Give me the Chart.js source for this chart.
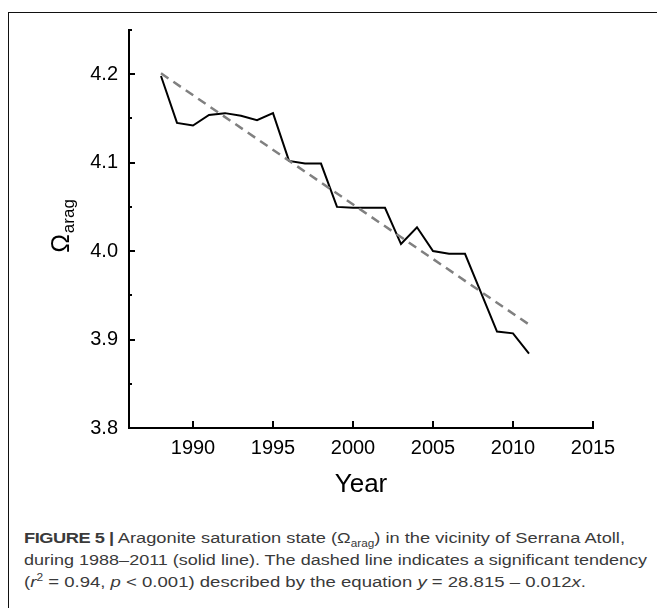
<!DOCTYPE html>
<html>
<head>
<meta charset="utf-8">
<script src="https://cdn.jsdelivr.net/npm/chart.js@4.4.0/dist/chart.umd.min.js"></script>
<style>
	html, body { margin: 0; padding: 0; background: #fff; width: 657px; height: 608px; overflow: hidden; }
	#Frame { position: absolute; left: 8px; top: 12px; width: 700px; height: 700px; border-left: 1px solid #111; border-top: 1px solid #111; }
	#Chart_Driver { position: absolute; left: 0; top: 0; }
	#Caption { position: absolute; left: 24px; top: 527px; font-family: "Liberation Sans", Arial, sans-serif; font-size: 15.5px; line-height: 22px; color: #3a3a3a; }
	.cap_line { white-space: nowrap; transform-origin: 0 0; display: block; width: max-content; }
	.cap_line sub, .cap_line sup { font-size: 10px; line-height: 0; }
	.cap_line b { letter-spacing: -0.4px; }
</style>
</head>
<body>
<div id="Frame"></div>
<canvas id="Chart_Driver" width="657" height="520"></canvas>
<div id="Caption">
	<span class="cap_line" id="Cap_1"><b>FIGURE 5 |</b> Aragonite saturation state (Ω<sub>arag</sub>) in the vicinity of Serrana Atoll,</span>
	<span class="cap_line" id="Cap_2">during 1988–2011 (solid line). The dashed line indicates a significant tendency</span>
	<span class="cap_line" id="Cap_3">(<i>r</i><sup>2</sup> = 0.94, <i>p</i> &lt; 0.001) described by the equation <i>y</i> = 28.815 – 0.012<i>x</i>.</span>
</div>
<script>
// values
const years = [1988, 1989, 1990, 1991, 1992, 1993, 1994, 1995, 1996, 1997, 1998, 1999,
	2000, 2001, 2002, 2003, 2004, 2005, 2006, 2007, 2008, 2009, 2010, 2011];
const omega_arag = [4.198, 4.145, 4.142, 4.154, 4.156, 4.153, 4.148, 4.156, 4.102, 4.099, 4.099, 4.050,
	4.049, 4.049, 4.049, 4.008, 4.027, 4.000, 3.997, 3.997, 3.953, 3.909, 3.907, 3.884];

const trend_years = [1988, 2011];
const trend_values = [4.201, 3.917];

const x_tick_values = [1990, 1995, 2000, 2005, 2010, 2015];
const x_tick_labels = ['1990', '1995', '2000', '2005', '2010', '2015'];
const y_tick_values = [3.8, 3.85, 3.9, 3.95, 4.0, 4.05, 4.1, 4.15, 4.2, 4.25];
const y_tick_labels = ['3.8', '', '3.9', '', '4.0', '', '4.1', '', '4.2', ''];

window.onload = init;

function init() {

	fit_caption();

	Chart.defaults.font.family = '"Liberation Sans", Arial, sans-serif';
	Chart.defaults.color = '#000';

	const line_data = [];
	let idx = 0;
	while(idx < years.length) {
		line_data.push({ x: years[idx], y: omega_arag[idx] });
		idx++;
	}
	const trend_data = [];
	idx = 0;
	while(idx < trend_years.length) {
		trend_data.push({ x: trend_years[idx], y: trend_values[idx] });
		idx++;
	}

	const chart_data = {
		datasets: [{
				label: 'trend',
				data: trend_data,
				borderColor: '#808080',
				borderWidth: 2.5,
				borderDash: [9, 6],
				pointRadius: 0,
				tension: 0
			}, {
				label: 'Ωarag',
				data: line_data,
				borderColor: '#000',
				borderWidth: 2,
				pointRadius: 0,
				tension: 0
			}
		]
	};

	const options = {
		responsive: false,
		animation: false,
		layout: { padding: { left: 0, right: 64, top: 30, bottom: 0 } },
		plugins: {
			legend: { display: false },
			tooltip: { enabled: false }
		},
		scales: {
			x: {
				type: 'linear',
				min: 1986,
				max: 2015,
				afterBuildTicks: function(scale) { scale.ticks = x_tick_values.map(v => ({ value: v })); },
				afterFit: function(scale) { scale.height = 92; },
				ticks: {
					padding: 8,
					font: { size: 20 },
					maxRotation: 0,
					autoSkip: false,
					callback: function(value, index) { return x_tick_labels[index]; }
				},
				grid: { display: false, drawTicks: false },
				border: { display: true, color: '#000', width: 2 },
				title: {
					display: true,
					text: 'Year',
					font: { size: 26 },
					color: '#000',
					padding: { top: 0, bottom: 20 }
				}
			},
			y: {
				type: 'linear',
				min: 3.8,
				max: 4.25,
				afterBuildTicks: function(scale) { scale.ticks = y_tick_values.map(v => ({ value: v })); },
				afterFit: function(scale) { scale.width = 129; },
				ticks: {
					padding: 11,
					font: { size: 20 },
					autoSkip: false,
					callback: function(value, index) { return y_tick_labels[index]; }
				},
				grid: { display: false, drawTicks: false },
				border: { display: true, color: '#000', width: 2 }
			}
		}
	};

	const config = {
		type: 'line',
		data: chart_data,
		options: options,
		plugins: [inward_ticks]
	};

	new Chart(document.getElementById('Chart_Driver').getContext('2d'), config);
}

// ticks point into the plot, plus the rotated Ω label with its subscript
const inward_ticks = {
	id: 'inward_ticks',
	afterDraw: function(chart) {
		const ctx = chart.ctx;
		const xs = chart.scales.x;
		const ys = chart.scales.y;
		const area = chart.chartArea;

		ctx.save();
		ctx.strokeStyle = '#000';
		ctx.lineWidth = 2;
		ctx.beginPath();
		xs.ticks.forEach(function(t) {
			const px = Math.round(xs.getPixelForValue(t.value));
			ctx.moveTo(px, area.bottom);
			ctx.lineTo(px, area.bottom - 7);
		});
		ys.ticks.forEach(function(t, i) {
			const py = Math.round(ys.getPixelForValue(t.value));
			const len = y_tick_labels[i] !== '' ? 6 : 3;
			ctx.moveTo(area.left, py);
			ctx.lineTo(area.left + len, py);
		});
		ctx.stroke();

		// y axis title
		ctx.fillStyle = '#000';
		ctx.textBaseline = 'alphabetic';
		ctx.textAlign = 'left';
		ctx.font = '25px "Liberation Sans", Arial, sans-serif';
		const w_main = ctx.measureText('Ω').width;
		ctx.font = '17px "Liberation Sans", Arial, sans-serif';
		const w_sub = ctx.measureText('arag').width;
		const total = w_main + 1 + w_sub;
		ctx.translate(69, 226 + total / 2);
		ctx.rotate(-Math.PI / 2);
		ctx.font = '25px "Liberation Sans", Arial, sans-serif';
		ctx.fillText('Ω', 0, 0);
		ctx.font = '17px "Liberation Sans", Arial, sans-serif';
		ctx.fillText('arag', w_main + 1, 5);
		ctx.restore();
	}
};

// squeeze each caption line to the width it has in the figure
function fit_caption() {
	const targets = { Cap_1: 601, Cap_2: 623, Cap_3: 562 };
	Object.keys(targets).forEach(function(id) {
		const el = document.getElementById(id);
		const w = el.getBoundingClientRect().width;
		el.style.transform = `scaleX(${targets[id] / w})`;
	});
}
</script>
</body>
</html>
